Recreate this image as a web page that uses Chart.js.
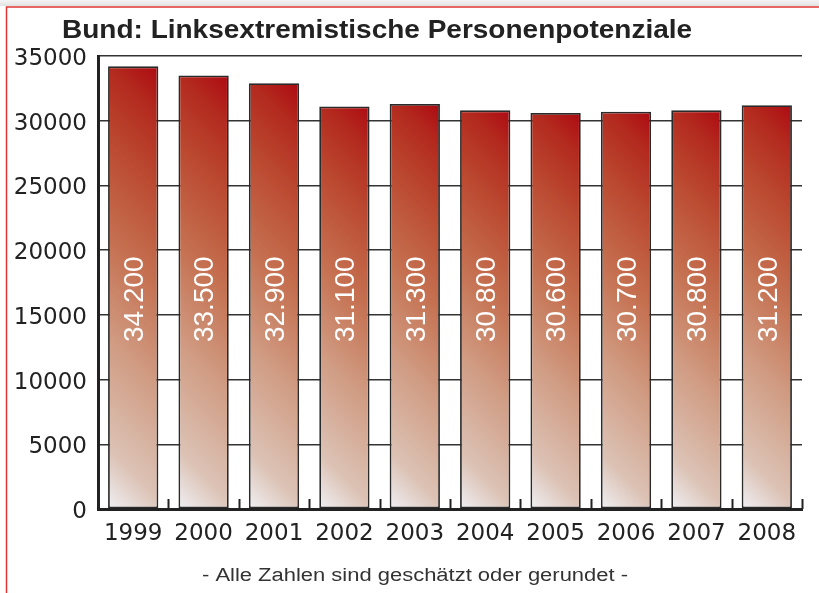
<!DOCTYPE html>
<html>
<head>
<meta charset="utf-8">
<script src="https://cdn.jsdelivr.net/npm/chart.js@4"></script>
<style>
  html, body { margin: 0; padding: 0; background: #fff; }
  #wrap { position: relative; width: 819px; height: 593px; }
</style>
</head>
<body>
<div id="wrap"><canvas id="chart" width="819" height="593"></canvas></div>
<script>
const years = ['1999', '2000', '2001', '2002', '2003', '2004', '2005', '2006', '2007', '2008'];
const persons = [34200, 33500, 32900, 31100, 31300, 30800, 30600, 30700, 30800, 31200];
const yTicks = [0, 5000, 10000, 15000, 20000, 25000, 30000, 35000];

const titleText = 'Bund: Linksextremistische Personenpotenziale';
const footerText = '- Alle Zahlen sind geschätzt oder gerundet -';
const barPct = 50 / 70;
const labelStart = 12900; // where the rotated labels begin
const sans = '"Liberation Sans", Arial, sans-serif';

function fmt(v) {
    return String(v).replace(/\B(?=(\d{3})+(?!\d))/g, '.');
}

// text a bit stretched sideways, like the original print font
function wideText(c, text, x, y, font, sx) {
    c.save();
    c.font = font;
    c.translate(x, y);
    c.scale(sx, 1);
    c.fillText(text, 0, 0);
    c.restore();
}

function barGradient(ctx) {
    const chart = ctx.chart;
    if (!chart.chartArea) return '#c0603e';
    const xs = chart.scales.x, ys = chart.scales.y;
    const w = xs.width / years.length * barPct;
    const x0 = xs.getPixelForValue(ctx.dataIndex) - w / 2;
    const base = ys.getPixelForValue(0);
    const top = ys.getPixelForValue(ctx.raw);
    const d = (w + (base - top)) / 2;
    const g = chart.ctx.createLinearGradient(x0, base, x0 + d, base - d);
    g.addColorStop(0, '#f0f0f4');
    g.addColorStop(0.12, '#dcc3b6');
    g.addColorStop(0.35, '#d09b82');
    g.addColorStop(0.55, '#c57151');
    g.addColorStop(0.75, '#bb4a31');
    g.addColorStop(0.9, '#b32a1e');
    g.addColorStop(1, '#ad0a12');
    return g;
}

const decor = {
    id: 'decor',
    beforeDraw(chart) {
        const c = chart.ctx;
        c.save();
        const band = c.createLinearGradient(0, 0, 0, 6);
        band.addColorStop(0, '#f4f4f4');
        band.addColorStop(1, '#e2e2e2');
        c.fillStyle = band;
        c.fillRect(0, 0, chart.width, 6);
        c.strokeStyle = '#e03434';
        c.lineWidth = 1.5;
        c.beginPath();
        c.moveTo(6.5, chart.height);
        c.lineTo(6.5, 7);
        c.lineTo(chart.width, 7);
        c.stroke();
        c.textBaseline = 'middle';
        c.textAlign = 'left';
        c.fillStyle = '#222';
        wideText(c, titleText, 62, 31, 'bold 25px ' + sans, 1.12);
        c.fillStyle = '#333';
        const fw = 18;
        c.font = fw + 'px ' + sans;
        const sx = 1.22;
        const width = c.measureText(footerText).width * sx;
        wideText(c, footerText, 415 - width / 2, 576, fw + 'px ' + sans, sx);
        c.restore();
    },
    afterDatasetsDraw(chart) {
        const c = chart.ctx;
        const xs = chart.scales.x, ys = chart.scales.y;
        const area = chart.chartArea;
        c.save();
        // small inward ticks between the categories
        c.strokeStyle = '#222';
        c.lineWidth = 2;
        const step = xs.width / years.length;
        for (let i = 1; i <= years.length; i++) {
            const x = Math.round(xs.getPixelForValue(i - 1) + step / 2) + 0.5;
            c.beginPath();
            c.moveTo(x, area.bottom);
            c.lineTo(x, area.bottom - 10);
            c.stroke();
        }
        // value labels, rotated
        const meta = chart.getDatasetMeta(0);
        c.fillStyle = '#fff';
        c.font = '28px ' + sans;
        c.textAlign = 'left';
        c.textBaseline = 'middle';
        meta.data.forEach((bar, i) => {
            c.save();
            c.translate(bar.x + 2, ys.getPixelForValue(labelStart));
            c.rotate(-Math.PI / 2);
            c.fillText(fmt(persons[i]), 0, 0);
            c.restore();
        });
        c.restore();
    }
};

new Chart(document.getElementById('chart'), {
    type: 'bar',
    data: {
        labels: years,
        datasets: [{
            data: persons,
            backgroundColor: barGradient,
            borderColor: '#2a2a2a',
            borderWidth: 1.8,
            borderSkipped: false,
            barPercentage: barPct,
            categoryPercentage: 1
        }]
    },
    options: {
        responsive: false,
        animation: false,
        layout: { padding: { top: 56, right: 17, left: 0, bottom: 0 } },
        plugins: {
            legend: { display: false },
            tooltip: { enabled: false },
            title: { display: false }
        },
        scales: {
            x: {
                grid: { display: false },
                border: { display: true, color: '#222', width: 3 },
                ticks: {
                    color: '#222',
                    padding: 3,
                    font: { family: '"DejaVu Sans", sans-serif', size: 23 }
                },
                afterFit(scale) { scale.height = 84; }
            },
            y: {
                min: 0,
                max: 35000,
                afterBuildTicks(scale) { scale.ticks = yTicks.map(v => ({ value: v })); },
                grid: { color: '#333', lineWidth: 1.5, drawTicks: false },
                border: { display: true, color: '#222', width: 3 },
                ticks: {
                    color: '#222',
                    padding: 11,
                    labelOffset: 3,
                    font: { family: '"DejaVu Sans", sans-serif', size: 23 },
                    callback: v => String(v)
                },
                afterFit(scale) { scale.width = 98; }
            }
        }
    },
    plugins: [decor]
});
</script>
</body>
</html>
